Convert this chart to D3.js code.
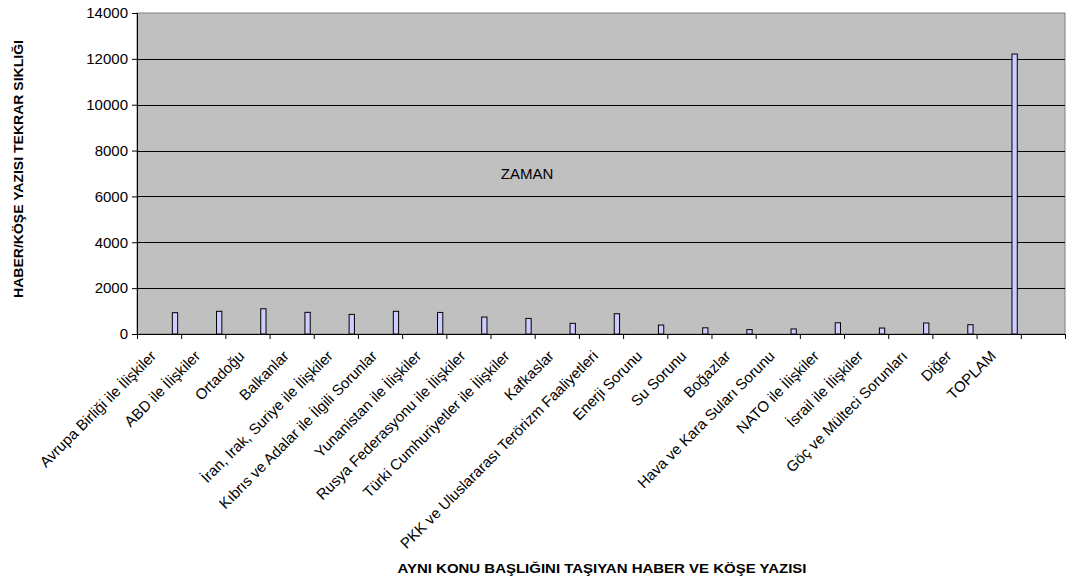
<!DOCTYPE html>
<html>
<head>
<meta charset="utf-8">
<script src="https://cdn.jsdelivr.net/npm/d3@7"></script>
<style>
  body { margin: 0; background: #fff; }
  svg { font-family: "Liberation Sans", Arial, sans-serif; }
  .labels { font-size: 15px; fill: #000; }
  .title { font-size: 13px; font-weight: bold; fill: #000; }
</style>
</head>
<body>
<div id="svg-container"></div>
<script>
// data
const categories = [
  "Avrupa Birliği ile İlişkiler",
  "ABD ile İlişkiler",
  "Ortadoğu",
  "Balkanlar",
  "İran, Irak, Suriye ile İlişkiler",
  "Kıbrıs ve Adalar ile İlgili Sorunlar",
  "Yunanistan ile İlişkiler",
  "Rusya Federasyonu ile İlişkiler",
  "Türki Cumhuriyetler ile İlişkiler",
  "Kafkaslar",
  "PKK ve Uluslararası Terörizm Faaliyetleri",
  "Enerji Sorunu",
  "Su Sorunu",
  "Boğazlar",
  "Hava ve Kara Suları Sorunu",
  "NATO ile İlişkiler",
  "İsrail ile İlişkiler",
  "Göç ve Mülteci Sorunları",
  "Diğer",
  "TOPLAM",
  ""
];
const zaman = [930, 990, 1100, 945, 855, 990, 940, 740, 680, 465, 885, 390, 270, 190, 220, 490, 260, 480, 405, 12210, null];
const yTicks = [0, 2000, 4000, 6000, 8000, 10000, 12000, 14000];
const seriesName = "ZAMAN";

const width = 1067, height = 581;
const margin = { top: 13, right: 2, bottom: 247, left: 137 };

const svg = d3.select("#svg-container").append("svg")
  .attr("width", width).attr("height", height);

const plotW = width - margin.left - margin.right;
const plotH = height - margin.top - margin.bottom;

const g = svg.append("g").attr("transform", `translate(${margin.left},${margin.top})`);

// scales
const x = d3.scaleBand().domain(d3.range(categories.length)).range([0, plotW]).padding(0);
const y = d3.scaleLinear().domain([0, 14000]).range([plotH, 0]);

// bar sits at the right side of its category slot
const barOffset = x.bandwidth() * 0.8;
const barWidth = x.bandwidth() * 0.12;

// plot area
g.append("rect")
  .attr("width", plotW).attr("height", plotH)
  .attr("fill", "#c0c0c0").attr("stroke", "#808080").attr("stroke-width", 1);

// gridlines
g.selectAll(".grid")
  .data(yTicks.filter(d => d > 0 && d < 14000))
  .enter().append("line")
  .attr("x1", 0).attr("x2", plotW)
  .attr("y1", d => Math.round(y(d)) + 0.5).attr("y2", d => Math.round(y(d)) + 0.5)
  .attr("stroke", "#000").attr("stroke-width", 1);

// bars
g.selectAll(".bar")
  .data(zaman.map((v, i) => ({ v, i })).filter(d => d.v != null))
  .enter().append("rect")
  .attr("x", d => x(d.i) + barOffset)
  .attr("y", d => y(d.v))
  .attr("width", barWidth)
  .attr("height", d => plotH - y(d.v))
  .attr("fill", "#ccccff")
  .attr("stroke", "#000")
  .attr("stroke-width", 1);

// y axis
const yAxis = g.append("g")
  .call(d3.axisLeft(y).tickValues(yTicks).tickSize(5).tickPadding(4).tickFormat(d3.format("d")));
yAxis.select(".domain").attr("stroke", "#000");
yAxis.selectAll("text").attr("class", "labels").attr("font-size", null).attr("font-family", null);

// x axis (ticks at slot boundaries)
const xb = d3.scaleLinear().domain([0, categories.length]).range([0, plotW]);
const xAxis = g.append("g")
  .attr("transform", `translate(0,${plotH})`)
  .call(d3.axisBottom(xb).tickValues(d3.range(0, categories.length + 1)).tickSize(5).tickFormat(""));
xAxis.select(".domain").attr("stroke", "#000");

// category labels
g.selectAll(".cat")
  .data(categories)
  .enter().append("text")
  .attr("class", "labels")
  .attr("text-anchor", "end")
  .attr("transform", (d, i) => `translate(${x(i) + x.bandwidth() / 2 - 2},${plotH + 23}) rotate(-45)`)
  .text(d => d);

// series name
g.append("text")
  .attr("class", "labels")
  .attr("x", 390).attr("y", 166)
  .attr("text-anchor", "middle")
  .text(seriesName);

// axis titles
svg.append("text")
  .attr("class", "title")
  .attr("text-anchor", "middle")
  .attr("transform", `translate(23,169) rotate(-90)`)
  .attr("textLength", 258)
  .attr("lengthAdjust", "spacingAndGlyphs")
  .text("HABER/KÖŞE YAZISI TEKRAR SIKLIĞI");

svg.append("text")
  .attr("class", "title")
  .attr("text-anchor", "middle")
  .attr("x", 602).attr("y", 573)
  .attr("textLength", 409)
  .attr("lengthAdjust", "spacingAndGlyphs")
  .text("AYNI KONU BAŞLIĞINI TAŞIYAN HABER VE KÖŞE YAZISI");
</script>
</body>
</html>
